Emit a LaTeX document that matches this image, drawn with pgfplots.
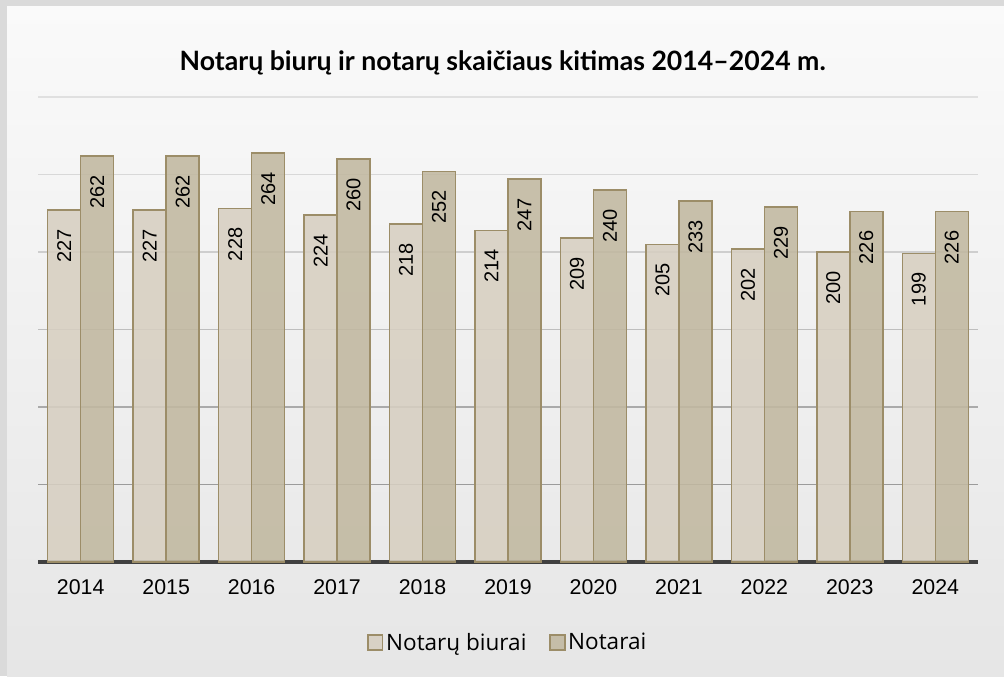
\documentclass[border=0pt]{standalone}
\usepackage{fontspec}
\setmainfont{Liberation Sans}
\newfontfamily\latofont{Lato}
\newfontfamily\opensans{Open Sans}
\usepackage{pgfplots}
\pgfplotsset{compat=1.18}
\definecolor{lightbar}{HTML}{D7CFC1}
\definecolor{darkbar}{HTML}{C1B8A0}
\definecolor{barborder}{HTML}{9C8D68}
\definecolor{axisline}{HTML}{404040}
\begin{document}
\begin{tikzpicture}
\fill[color={rgb,255:red,218;green,218;blue,218}] (0,0) rectangle (753pt,507pt);
\shade[top color={rgb,255:red,250;green,250;blue,250}, bottom color={rgb,255:red,230;green,230;blue,230}] (5.25pt,0) rectangle (753pt,501.75pt);
\begin{axis}[
  at={(28.5pt,85.5pt)}, anchor=south west,
  scale only axis,
  width=705pt, height=348.75pt,
  xmin=-0.5, xmax=10.5, ymin=0, ymax=300,
  clip=false,
  axis y line=none,
  axis x line*=bottom,
  x axis line style={line width=2.4pt, color=axisline, -},
  xtick={0,...,10},
  xticklabels={2014,2015,2016,2017,2018,2019,2020,2021,2022,2023,2024},
  major tick length=0pt,
  xticklabel style={anchor=base, yshift=-24.5pt, font=\fontsize{16}{18}\selectfont},
  /pgf/number format/assume math mode=true,
  ybar=0pt, bar width=24.75pt,
  nodes near coords,
  every node near coord/.append style={rotate=90, anchor=east, inner xsep=13.8pt, inner ysep=0pt, font=\fontsize{15}{17}\selectfont, color=black},
  title={\latofont\bfseries Notarų biurų ir notarų skaičiaus kitimas 2014–2024 m.},
  title style={at={(0.5,1)}, anchor=base, yshift=14pt, xshift=-4pt, font=\fontsize{20}{22}\selectfont},
  legend style={at={(0.5,-0.173)}, anchor=center, draw=none, fill=none, legend columns=2,
     font=\opensans\fontsize{16.9}{18}\selectfont,
     /tikz/every even column/.append style={column sep=15pt}},
  legend image code/.code={\draw[#1, line width=1.1pt] (0pt,-5.6pt) rectangle (11.2pt,5.6pt);},
]
\draw[color={rgb,255:red,224;green,224;blue,224}, line width=1.1pt] (axis cs:-0.5,300) -- (axis cs:10.5,300);
\draw[color={rgb,255:red,216;green,216;blue,216}, line width=1.1pt] (axis cs:-0.5,250) -- (axis cs:10.5,250);
\draw[color={rgb,255:red,206;green,206;blue,206}, line width=1.1pt] (axis cs:-0.5,200) -- (axis cs:10.5,200);
\draw[color={rgb,255:red,190;green,190;blue,190}, line width=1.1pt] (axis cs:-0.5,150) -- (axis cs:10.5,150);
\draw[color={rgb,255:red,170;green,170;blue,170}, line width=1.1pt] (axis cs:-0.5,100) -- (axis cs:10.5,100);
\draw[color={rgb,255:red,155;green,155;blue,155}, line width=1.1pt] (axis cs:-0.5,50) -- (axis cs:10.5,50);
\addplot[fill=lightbar, fill opacity=0.88, draw=barborder, line width=1.1pt, text opacity=1] coordinates {
(0,227) (1,227) (2,228) (3,224) (4,218) (5,214) (6,209) (7,205) (8,202) (9,200) (10,199)};
\addplot[fill=darkbar, fill opacity=0.88, draw=barborder, line width=1.1pt, text opacity=1] coordinates {
(0,262) (1,262) (2,264) (3,260) (4,252) (5,247) (6,240) (7,233) (8,229) (9,226) (10,226)};
\legend{Notarų biurai, Notarai}
\end{axis}
\pgfresetboundingbox
\useasboundingbox (0,0) rectangle (753pt,507pt);
\end{tikzpicture}
\end{document}
